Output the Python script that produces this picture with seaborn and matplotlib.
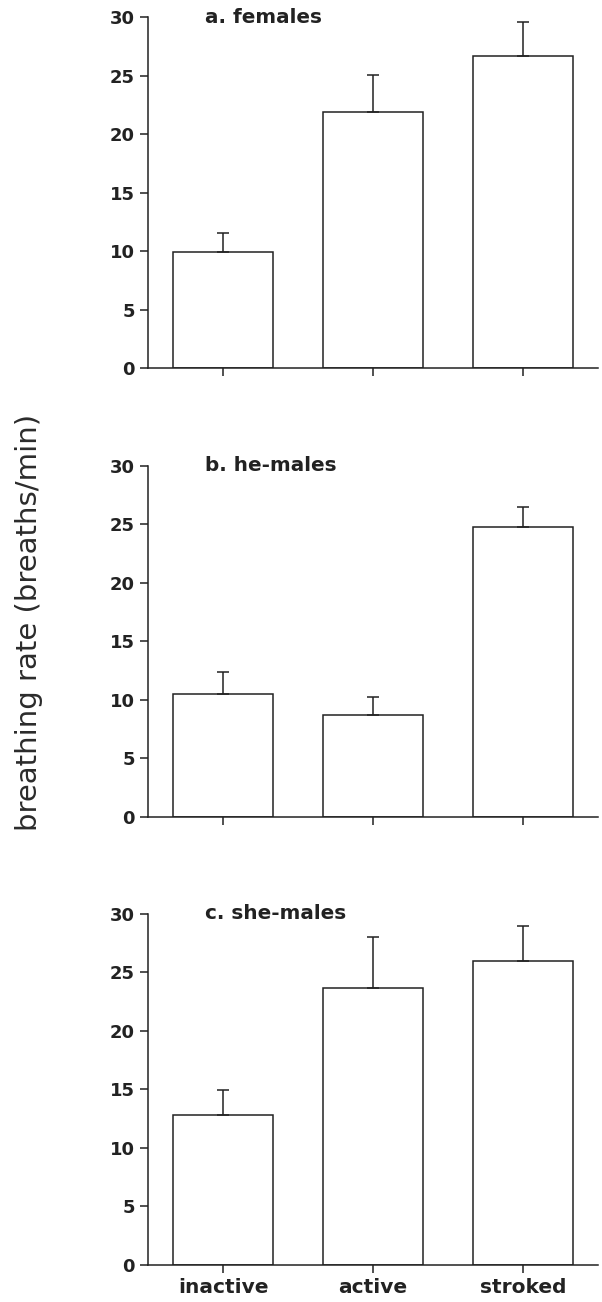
import matplotlib
matplotlib.use("Agg")
import matplotlib.pyplot as plt
import seaborn as sns

# data
conditions = ["inactive", "active", "stroked"]

females_mean = [9.9, 21.9, 26.7]
females_err = [1.7, 3.2, 2.9]

he_males_mean = [10.5, 8.7, 24.8]
he_males_err = [1.9, 1.55, 1.7]

she_males_mean = [12.8, 23.65, 26.0]
she_males_err = [2.1, 4.35, 2.95]

panel_titles = ["a. females", "b. he-males", "c. she-males"]
y_ticks = [0, 5, 10, 15, 20, 25, 30]

sns.set_style("ticks")
plt.rcParams["font.family"] = ["DejaVu Sans"]

ink = "#222222"

fig = plt.figure(figsize=(6.02, 13.02), dpi=100)

left = 148 / 602
width = 450 / 602
tops = [17.3, 465.7, 913.7]
height = 351 / 1302

panels = [
    (females_mean, females_err),
    (he_males_mean, he_males_err),
    (she_males_mean, she_males_err),
]

for i, (means, errs) in enumerate(panels):
    bottom = 1 - (tops[i] + 351) / 1302
    ax = fig.add_axes([left, bottom, width, height])

    sns.barplot(
        x=conditions,
        y=means,
        color="white",
        saturation=1,
        edgecolor=ink,
        linewidth=1.1,
        width=0.667,
        errorbar=None,
        ax=ax,
    )
    # upper half of the error bar only
    ax.errorbar(
        range(len(conditions)),
        means,
        yerr=[[0] * len(errs), errs],
        fmt="none",
        ecolor=ink,
        elinewidth=1.1,
        capsize=4,
        capthick=1.1,
    )

    ax.set_xlim(-0.5, 2.5)
    ax.set_ylim(0, 30)
    ax.set_yticks(y_ticks)
    sns.despine(ax=ax)
    for side in ["left", "bottom"]:
        ax.spines[side].set_linewidth(1.1)
        ax.spines[side].set_color(ink)

    ax.tick_params(axis="both", direction="out", length=6, width=1.1,
                   color=ink, labelcolor=ink)
    for lab in ax.get_yticklabels():
        lab.set_fontsize(13)
        lab.set_fontweight("bold")

    if i < 2:
        ax.set_xticklabels([])
    else:
        for lab in ax.get_xticklabels():
            lab.set_fontsize(14.5)
            lab.set_fontweight("bold")
    ax.set_xlabel("")
    ax.set_ylabel("")

    ax.text(0.127, 1.0, panel_titles[i], transform=ax.transAxes,
            ha="left", va="center", fontsize=14.4, fontweight="bold",
            color=ink)

fig.text(0.048, 0.522, "breathing rate (breaths/min)", rotation=90,
         ha="center", va="center", fontsize=21, color="#2b2b2b")

fig.savefig("out.png", dpi=100, facecolor="white")
